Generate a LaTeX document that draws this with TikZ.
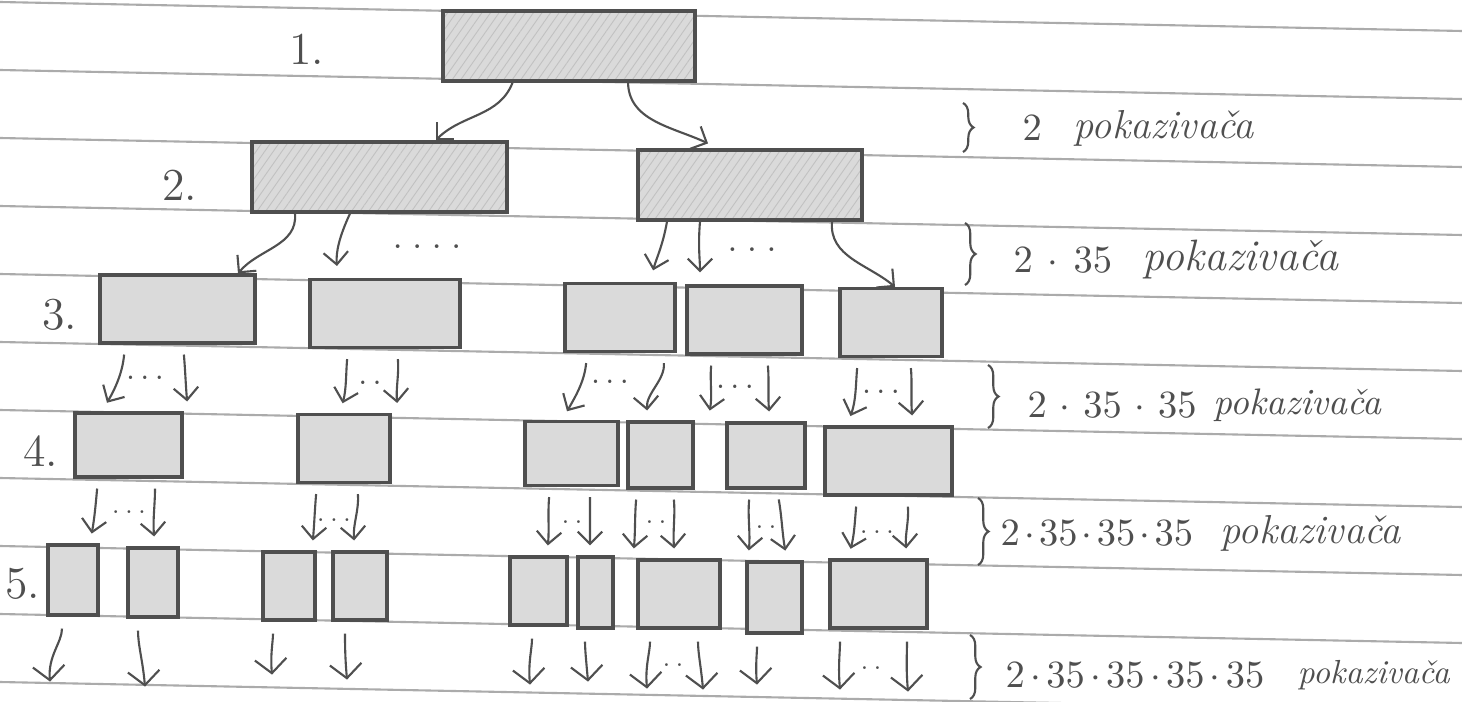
\documentclass[tikz,border=0pt]{standalone}
\usepackage{amsmath}
\usepackage{tikz}
\usetikzlibrary{arrows.meta,positioning,patterns.meta,decorations.pathreplacing}

\definecolor{pencil}{HTML}{4F4F4F}
\definecolor{ruling}{HTML}{ABABAB}
\definecolor{shade}{HTML}{DADADA}

\begin{document}
\begin{tikzpicture}[
  box/.style={rectangle,draw=pencil,line width=0.9pt,fill=shade,inner sep=0pt,
              minimum height=0.68cm},
  hatched/.style={preaction={fill=shade},
                  pattern={Lines[angle=55,distance=2pt,line width=0.25pt]},pattern color=pencil!35},
  arr/.style={-{Straight Barb[length=3.5pt,width=7pt]},line width=0.6pt,pencil},
  arrbig/.style={-{Straight Barb[length=4pt,width=9pt]},line width=0.6pt,pencil},
  gap/.style={shorten <=1mm,shorten >=1mm},
  short/.style={shorten >=1.2mm},
  lvl/.style={font=\fontsize{13}{13}\selectfont,text=pencil},
  cnt/.style={anchor=west,inner sep=0pt,font=\fontsize{11}{13}\selectfont,text=pencil},
  word/.style={anchor=west,inner sep=0pt,font=\fontsize{#1}{13}\selectfont\itshape,text=pencil},
  word/.default=11,
  dots/.style={inner sep=0pt,font=\small,text=pencil},
  brc/.style={decorate,decoration={brace,amplitude=3pt},line width=0.6pt,pencil},
  rule/.style={ruling,line width=0.6pt},
]
  \useasboundingbox (0,0) rectangle (14.62,7.01);
  \fill[white] (0,0) rectangle (14.62,7.01);

  % Ruled paper
  \foreach \k in {0,...,10}
    \draw[rule] (0,6.99-0.68*\k) -- (14.62,6.70-0.68*\k);

  % Level numbers
  \node[lvl] (l1) at (3.07,6.52) {1.};
  \node[lvl] (l2) at (1.80,5.16) {2.};
  \node[lvl] (l3) at (0.60,3.86) {3.};
  \node[lvl] (l4) at (0.41,2.50) {4.};
  \node[lvl] (l5) at (0.23,1.17) {5.};

  % Level 1 and 2
  \node[box,hatched,minimum width=2.52cm,minimum height=0.70cm] (a)  at (5.69,6.55) {};
  \node[box,hatched,minimum width=2.55cm,minimum height=0.70cm] (b1) at (3.795,5.24) {};
  \node[box,hatched,minimum width=2.24cm,minimum height=0.70cm] (b2) at (7.50,5.16) {};

  % Level 3
  \node[box,minimum width=1.55cm] (c1) at (1.775,3.92) {};
  \node[box,minimum width=1.50cm] (c2) at (3.85,3.875) {};
  \node[box,minimum width=1.10cm] (c3) at (6.20,3.835) {};
  \node[box,minimum width=1.15cm] (c4) at (7.445,3.81) {};
  \node[box,minimum width=1.02cm] (c5) at (8.91,3.785) {};

  % Level 4
  \node[box,minimum width=1.07cm,minimum height=0.64cm] (d1) at (1.285,2.56) {};
  \node[box,minimum width=0.92cm] (d2) at (3.44,2.525) {};
  \node[box,minimum width=0.93cm,minimum height=0.64cm] (d3) at (5.715,2.475) {};
  \node[box,minimum width=0.65cm,minimum height=0.66cm] (d4) at (6.605,2.46) {};
  \node[box,minimum width=0.78cm,minimum height=0.65cm] (d5) at (7.66,2.455) {};
  \node[box,minimum width=1.27cm] (d6) at (8.885,2.40) {};

  % Level 5
  \node[box,minimum width=0.50cm,minimum height=0.70cm] (e1) at (0.73,1.21) {};
  \node[box,minimum width=0.50cm,minimum height=0.69cm] (e2) at (1.53,1.185) {};
  \node[box,minimum width=0.52cm] (e3) at (2.89,1.15) {};
  \node[box,minimum width=0.54cm] (e4) at (3.60,1.15) {};
  \node[box,minimum width=0.57cm] (e5) at (5.385,1.10) {};
  \node[box,minimum width=0.35cm,minimum height=0.71cm] (e6) at (5.955,1.085) {};
  \node[box,minimum width=0.82cm] (e7) at (6.79,1.07) {};
  \node[box,minimum width=0.55cm,minimum height=0.71cm] (e8) at (7.745,1.035) {};
  \node[box,minimum width=0.97cm] (e9) at (8.785,1.07) {};

  % Pointers 1 -> 2
  \draw[arr] ([xshift=-5.6mm]a.south) to[out=-110,in=45] ([xshift=5.6mm]b1.north);
  \draw[arr] ([xshift=5.9mm]a.south) to[out=-90,in=155] ([xshift=-4.2mm,yshift=0.5mm]b2.north);

  % Pointers 2 -> 3
  \draw[arr] ([xshift=-8.45mm]b1.south) to[out=-85,in=50] ([xshift=6.05mm]c1.north);
  \draw[arr,short] ([xshift=-2.95mm]b1.south) to[out=-115,in=95] ([xshift=-4.7mm]c2.north);
  \draw[arr,short] ([xshift=-8.3mm]b2.south) to[out=-100,in=75] ([xshift=3mm]c3.north);
  \draw[arr,short] ([xshift=-5mm]b2.south) to[out=-95,in=90] ([xshift=-4.45mm]c4.north);
  \draw[arr] ([xshift=8.2mm]b2.south) to[out=-95,in=140] ([xshift=0.4mm]c5.north);
  \node[dots,font=\normalsize] (t1) at (4.27,4.54) {$.\;.\;.\;.$};
  \node[dots,font=\normalsize] (t2) at (7.52,4.51) {$.\;.\;.$};

  % Pointers 3 -> 4
  \foreach \p/\sx/\c/\ex/\o/\i in {c1/-5.25/d1/-2.65/-95/60, c1/0.55/d1/5.95/-85/95,
      c2/-3.7/d2/-0.4/-95/75, c2/1.2/d2/5.4/-85/95,
      c3/-3.3/d3/-0.95/-95/60, c3/4.3/d4/-1.25/-85/95,
      c4/-3.25/d4/4.75/-95/80, c4/2.25/d5/0.4/-85/95,
      c5/-3.3/d6/-4.15/-95/70, c5/1.9/d6/2.45/-85/95}
    \draw[arr,gap] ([xshift=\sx mm]\p.south) to[out=\o,in=\i] ([xshift=\ex mm]\c.north);
  \node[dots] (t3) at (1.45,3.23) {$.\,.\,.$};
  \node[dots] (t4) at (3.70,3.18) {$.\,.$};
  \node[dots] (t5) at (6.10,3.19) {$.\,.\,.$};
  \node[dots] (t6) at (7.35,3.14) {$.\,.\,.$};
  \node[dots] (t7) at (8.81,3.09) {$.\,.\,.$};

  % Pointers 4 -> 5
  \foreach \p/\sx/\c/\ex/\o/\i in {d1/-3.05/e1/1.7/-95/80, d1/2.65/e2/0.2/-90/95,
      d2/-2.7/e3/2.3/-95/85, d2/1.3/e4/-0.5/-85/95,
      d3/-2.15/e5/0.85/-95/85, d3/1.85/e6/-0.55/-90/90,
      d4/-2.35/e7/-4.6/-95/85, d4/1.25/e7/-0.4/-85/95,
      d5/-1.6/e8/-2.65/-95/85, d5/1.1/e8/1.25/-80/100,
      d6/-3.15/e9/-3.05/-95/75, d6/1.85/e9/2.85/-85/95}
    \draw[arr,gap] ([xshift=\sx mm]\p.south) to[out=\o,in=\i] ([xshift=\ex mm]\c.north);
  \node[dots,font=\scriptsize] (t8)  at (1.29,1.89) {$.\,.\,.$};
  \node[dots,font=\scriptsize] (t9)  at (3.34,1.81) {$.\,.\,.$};
  \node[dots,font=\scriptsize] (t10) at (5.72,1.79) {$.\,.$};
  \node[dots,font=\scriptsize] (t11) at (6.56,1.79) {$.\,.$};
  \node[dots,font=\scriptsize] (t12) at (7.66,1.74) {$.\,.$};
  \node[dots,font=\scriptsize] (t13) at (8.77,1.69) {$.\,.\,.$};

  % Pointers out of level 5
  \foreach \p/\sx/\ex/\ey in {e1/-1.1/-2.3/-6.5, e2/-1.5/-0.8/-6.8, e3/-1.6/-1.7/-5.3,
      e4/-1.5/-1.3/-5.8, e5/-0.65/-0.85/-5.8, e6/-1.05/-0.75/-5.2, e7/-2.9/-3.2/-5.9,
      e7/1.9/2.4/-6.0, e8/-1.75/-1.75/-5.0, e9/-3.85/-3.85/-6.0, e9/2.85/2.95/-6.2}
    \draw[arrbig,shorten <=1.2mm] ([xshift=\sx mm]\p.south)
      to[out=-90,in=95] ([xshift=\ex mm,yshift=\ey mm]\p.south);
  \node[dots,font=\scriptsize] (t14) at (6.73,0.36) {$.\,.$};
  \node[dots,font=\scriptsize] (t15) at (8.71,0.33) {$.\,.$};

  % Counts
  \draw[brc] (9.63,5.98) -- (9.63,5.49);
  \node[cnt] (n1) at (10.22,5.73) {$2$};
  \node[word=11.5] (w1) at (10.73,5.73) {pokazivača};
  \draw[brc] (9.65,4.78) -- (9.65,4.16);
  \node[cnt] (n2) at (10.13,4.41) {$\medmuskip=7mu 2\cdot 35$};
  \node[word=12.5] (w2) at (11.42,4.41) {pokazivača};
  \draw[brc] (9.88,3.36) -- (9.88,2.73);
  \node[cnt] (n3) at (10.27,2.96) {$\medmuskip=6mu 2\cdot 35\cdot 35$};
  \node[word=10.5] (w3) at (12.13,2.96) {pokazivača};
  \draw[brc] (9.78,2.03) -- (9.78,1.36);
  \node[cnt] (n4) at (10.00,1.68) {$\medmuskip=2mu 2\cdot 35\cdot 35\cdot 35$};
  \node[word=11.5] (w4) at (12.20,1.68) {pokazivača};
  \draw[brc] (9.70,0.66) -- (9.70,0.02);
  \node[cnt] (n5) at (10.05,0.26) {$\medmuskip=2.5mu 2\cdot 35\cdot 35\cdot 35\cdot 35$};
  \node[word=9.5] (w5) at (12.97,0.26) {pokazivača};
\end{tikzpicture}
\end{document}
